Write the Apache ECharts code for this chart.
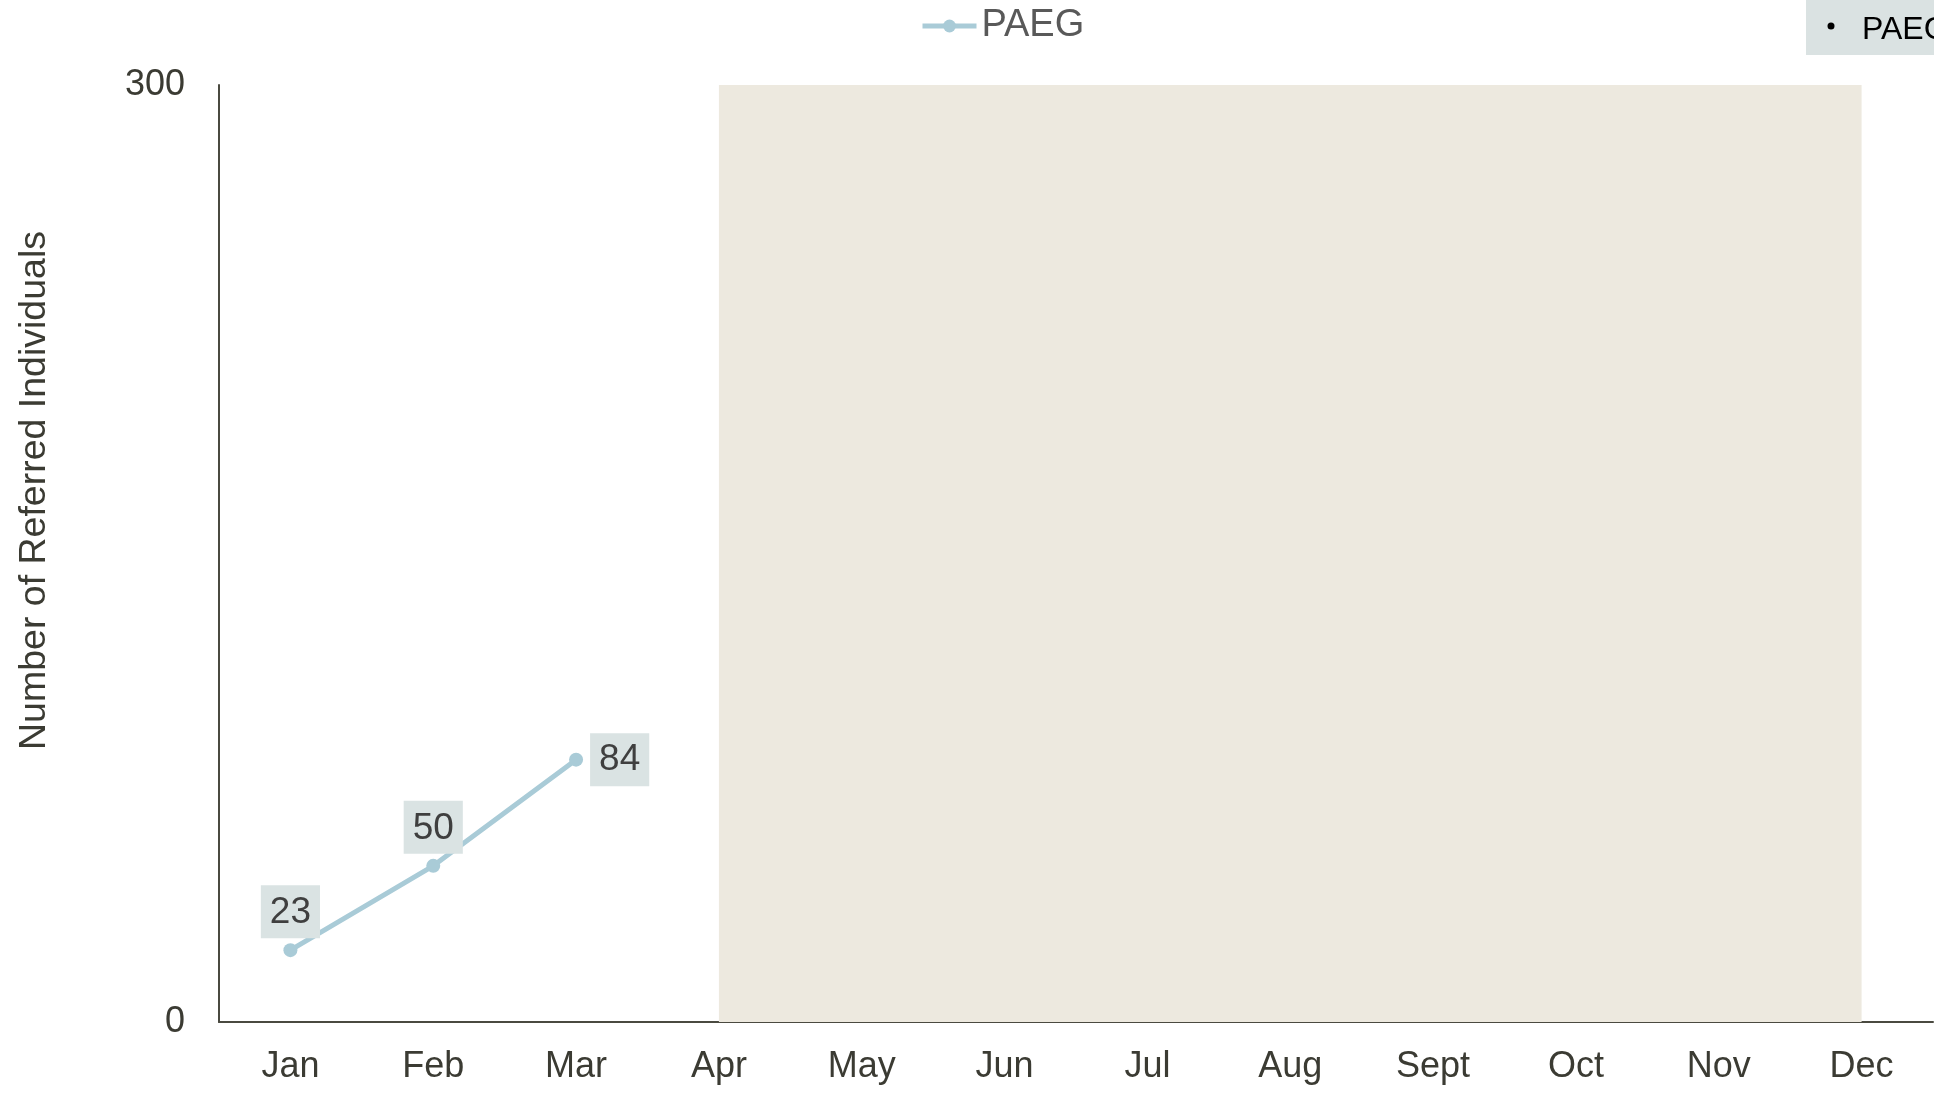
<!DOCTYPE html>
<html>
<head>
<meta charset="utf-8">
<script src="https://cdn.jsdelivr.net/npm/echarts@6/dist/echarts.min.js"></script>
<style>
  html, body { margin: 0; padding: 0; background: #ffffff; }
  #main1 { width: 1934px; height: 1095px; }
</style>
</head>
<body>
<div id="main1"></div>
<script>
// chart values
const months = ['Jan', 'Feb', 'Mar', 'Apr', 'May', 'Jun', 'Jul', 'Aug', 'Sept', 'Oct', 'Nov', 'Dec'];
const paegValues = [23, 50, 84];
const labelSides = ['top', 'top', 'right'];
const yTicks = [0, 300];
const shadedFrom = 'Apr';
const shadedTo = 'Dec';

const fontName = '"Liberation Sans", Arial, sans-serif';

// build the point list, each point keeps its own label side
let paegData = [];
for (let i in paegValues) {
    paegData.push({
        value: paegValues[i],
        label: {
            position: labelSides[i],
            distance: labelSides[i] == 'right' ? 7 : 5
        }
    });
}

let optionObj = {
    animation: false,
    textStyle: { fontFamily: fontName },
    legend: {
        data: ['PAEG'],
        left: 915,
        top: 2,
        itemWidth: 54,
        itemHeight: 16,
        itemGap: 6,
        lineStyle: { width: 5 },
        textStyle: { fontSize: 38, color: '#595959', fontFamily: fontName }
    },
    grid: {
        left: 219,
        right: 1,
        top: 85,
        bottom: 73
    },
    xAxis: {
        type: 'category',
        data: months,
        boundaryGap: true,
        axisLine: { lineStyle: { color: '#4a4a40', width: 2 } },
        axisTick: { show: false },
        axisLabel: {
            interval: 0,
            fontSize: 36,
            color: '#3b3b33',
            margin: 27,
            fontFamily: fontName
        }
    },
    yAxis: {
        type: 'value',
        min: yTicks[0],
        max: yTicks[1],
        interval: yTicks[1] - yTicks[0],
        name: 'Number of Referred Individuals',
        nameLocation: 'middle',
        nameGap: 165,
        nameTextStyle: {
            fontSize: 37.5,
            color: '#3b3b33',
            padding: [0, 0, 0, 126],
            fontFamily: fontName
        },
        axisLine: { show: true, lineStyle: { color: '#4a4a40', width: 2 } },
        axisTick: { show: false },
        splitLine: { show: false },
        axisLabel: {
            fontSize: 36,
            color: '#3b3b33',
            margin: 34,
            padding: [6, 0, 0, 0],
            fontFamily: fontName
        }
    },
    series: [
        {
            name: 'PAEG',
            type: 'line',
            data: paegData,
            symbol: 'circle',
            symbolSize: 14,
            itemStyle: { color: '#a9cbd7' },
            lineStyle: { color: '#a9cbd7', width: 5 },
            label: {
                show: true,
                fontSize: 37,
                color: '#3f3f3f',
                backgroundColor: '#dae3e3',
                padding: [9, 9, 7, 9],
                fontFamily: fontName
            },
            markArea: {
                silent: true,
                itemStyle: { color: '#ede9df' },
                data: [[{ xAxis: shadedFrom }, { xAxis: shadedTo }]]
            }
        }
    ],
    // the tooltip box that sits cut off in the top right corner
    graphic: [
        {
            type: 'rect',
            left: 1806,
            top: 0,
            shape: { width: 128, height: 55 },
            style: { fill: '#dae2e2' }
        },
        {
            type: 'text',
            left: 1859,
            top: -24,
            style: { text: 'Mar', fontSize: 30, fill: '#000000', fontFamily: fontName }
        },
        {
            type: 'circle',
            shape: { cx: 1831, cy: 26, r: 3.5 },
            style: { fill: '#000000' }
        },
        {
            type: 'text',
            left: 1862,
            top: 14,
            style: { text: 'PAEG', fontSize: 32, fill: '#000000', fontFamily: fontName }
        }
    ]
};

function createGraph() {
    let chartDom = document.getElementById('main1');
    let myChart = echarts.init(chartDom);
    myChart.setOption(optionObj);
}

createGraph();
</script>
</body>
</html>
